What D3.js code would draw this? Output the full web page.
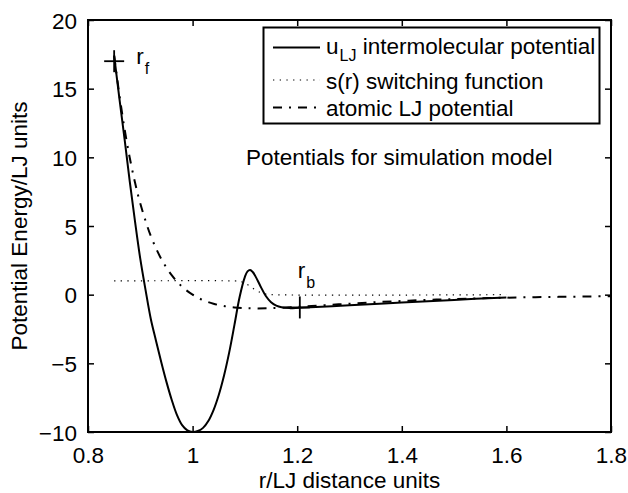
<!DOCTYPE html>
<html>
<head>
<meta charset="utf-8">
<script src="https://cdn.jsdelivr.net/npm/d3@7"></script>
<style>
  html, body { margin: 0; padding: 0; background: #fff; }
  svg { display: block; font-family: "Liberation Sans", Arial, Helvetica, sans-serif; }
</style>
</head>
<body>
<svg id="chart" width="628" height="493"></svg>
<script>
// Intermolecular potential u_LJ (r, energy)
const uR = [0.85, 0.86, 0.87, 0.88, 0.89, 0.90, 0.91, 0.92, 0.93, 0.94, 0.95, 0.96, 0.97, 0.98, 0.99, 1.00,
            1.01, 1.02, 1.03, 1.04, 1.05, 1.06, 1.07, 1.08, 1.09, 1.10, 1.105, 1.11, 1.115, 1.12,
            1.13, 1.14, 1.15, 1.16, 1.17, 1.185, 1.205, 1.30, 1.40, 1.50, 1.60];
const uV = [17.4, 14.3, 11.3, 8.2, 5.3, 2.6, 0.35, -1.75, -3.35, -4.9, -6.35, -7.65, -8.75, -9.5, -9.88, -10.0,
            -9.93, -9.7, -9.2, -8.4, -7.3, -5.9, -4.2, -2.2, -0.15, 1.3, 1.7, 1.8, 1.65, 1.35,
            0.6, -0.1, -0.55, -0.8, -0.92, -0.98, -0.95, -0.77, -0.57, -0.38, -0.2];

// Switching function s(r)
const sR = [0.85, 1.08, 1.09, 1.10, 1.11, 1.12, 1.13, 1.14, 1.15, 1.60];
const sV = [1.0, 1.0, 0.97, 0.85, 0.6, 0.35, 0.15, 0.04, 0.0, 0.0];

// Atomic LJ potential
const ljR = [0.85, 0.86, 0.87, 0.88, 0.89, 0.90, 0.92, 0.94, 0.96, 0.98, 1.00, 1.02, 1.04,
             1.06, 1.08, 1.10, 1.12, 1.15, 1.20, 1.25, 1.30, 1.35, 1.40, 1.45, 1.50, 1.60, 1.70, 1.80];
const ljV = [17.4, 14.55, 12.05, 9.93, 8.15, 6.64, 4.28, 2.61, 1.42, 0.58, 0.0, -0.40, -0.66,
             -0.83, -0.93, -0.98, -1.0, -0.98, -0.89, -0.77, -0.66, -0.55, -0.46, -0.38, -0.32, -0.22, -0.16, -0.11];

// Cut-off markers r_f and r_b
const markerR = [0.85, 1.205];
const markerV = [17.0, -0.93];
const markerNames = ["f", "b"];

// Axis ticks
const xTicks = [0.8, 1.0, 1.2, 1.4, 1.6, 1.8];
const xTickLabels = ["0.8", "1", "1.2", "1.4", "1.6", "1.8"];
const yTicks = [-10, -5, 0, 5, 10, 15, 20];
const yTickLabels = ["\u221210", "\u22125", "0", "5", "10", "15", "20"];

const legendLabels = ["intermolecular potential", "s(r) switching function", "atomic LJ potential"];

const svg = d3.select("#chart");
const L = 88, R = 611, T = 20, B = 432;
const x = d3.scaleLinear().domain([0.8, 1.8]).range([L, R]);
const y = d3.scaleLinear().domain([-10, 20]).range([B, T]);
const FS = 22.5, SUB = 16;

// ticks (inward, mirrored on all sides)
const tickLen = 6;
const fmtX = d => xTickLabels[xTicks.indexOf(d)];
const fmtY = d => yTickLabels[yTicks.indexOf(d)];

const gx = svg.append("g").attr("transform", `translate(0,${B})`)
  .call(d3.axisBottom(x).tickValues(xTicks).tickSize(-tickLen).tickPadding(15).tickFormat(fmtX));
const gxt = svg.append("g").attr("transform", `translate(0,${T})`)
  .call(d3.axisTop(x).tickValues(xTicks).tickSize(-tickLen).tickFormat(""));
const gy = svg.append("g").attr("transform", `translate(${L},0)`)
  .call(d3.axisLeft(y).tickValues(yTicks).tickSize(-tickLen).tickPadding(11).tickFormat(fmtY));
const gyr = svg.append("g").attr("transform", `translate(${R},0)`)
  .call(d3.axisRight(y).tickValues(yTicks).tickSize(-tickLen).tickFormat(""));

[gx, gxt, gy, gyr].forEach(g => {
  g.select(".domain").remove();
  g.selectAll(".tick line").attr("stroke", "#000").attr("stroke-width", 1.5);
  g.selectAll(".tick text").attr("fill", "#000").style("font-size", FS + "px")
    .style("font-family", "\"Liberation Sans\", Arial, Helvetica, sans-serif");
});
gx.selectAll(".tick text").attr("dy", "0.71em");
gy.selectAll(".tick text").attr("dy", "0.36em");

// curves
const zip = (rs, vs) => rs.map((r, i) => [r, vs[i]]);
const line = d3.line().x(d => x(d[0])).y(d => y(d[1])).curve(d3.curveCatmullRom.alpha(0.5));

svg.append("path").datum(zip(sR, sV)).attr("d", line)
  .attr("fill", "none").attr("stroke", "#000").attr("stroke-width", 1.2)
  .attr("stroke-dasharray", "1.3,5.4");

svg.append("path").datum(zip(ljR, ljV)).attr("d", line)
  .attr("fill", "none").attr("stroke", "#000").attr("stroke-width", 2)
  .attr("stroke-dasharray", "9,7,2,7");

svg.append("path").datum(zip(uR, uV)).attr("d", line)
  .attr("fill", "none").attr("stroke", "#000").attr("stroke-width", 2);

// markers
markerR.forEach((r, i) => {
  const cx = x(r), cy = y(markerV[i]);
  svg.append("line").attr("x1", cx - 10).attr("x2", cx + 10).attr("y1", cy).attr("y2", cy)
    .attr("stroke", "#000").attr("stroke-width", 1.8);
  svg.append("line").attr("x1", cx).attr("x2", cx).attr("y1", cy - 11).attr("y2", cy + 11)
    .attr("stroke", "#000").attr("stroke-width", 1.8);
  const t = svg.append("text").attr("x", cx + (i === 0 ? 22 : -2)).attr("y", cy + (i === 0 ? 2.5 : -29))
    .style("font-size", FS + "px").text("r");
  t.append("tspan").attr("dy", 10).attr("dx", 1).style("font-size", SUB + "px").text(markerNames[i]);
});

// plot frame
svg.append("rect").attr("x", L).attr("y", T).attr("width", R - L).attr("height", B - T)
  .attr("fill", "none").attr("stroke", "#000").attr("stroke-width", 2);

// annotation
svg.append("text").attr("x", 246).attr("y", 165).style("font-size", FS + "px")
  .text("Potentials for simulation model");

// legend
const lg = svg.append("g");
lg.append("rect").attr("x", 263.5).attr("y", 27.5).attr("width", 336).attr("height", 96)
  .attr("fill", "#fff").attr("stroke", "#000").attr("stroke-width", 2);
const rowY = [47.5, 80, 107.5];
const styles = [null, "1.3,5.4", "9,7,2,7"];
const widths = [2, 1.2, 2];
rowY.forEach((ry, i) => {
  const ln = lg.append("line").attr("x1", 273).attr("x2", 320).attr("y1", ry).attr("y2", ry)
    .attr("stroke", "#000").attr("stroke-width", widths[i]);
  if (styles[i]) ln.attr("stroke-dasharray", styles[i]);
});
const t0 = lg.append("text").attr("x", 326).attr("y", 54).style("font-size", FS + "px").text("u");
t0.append("tspan").attr("dy", 7).attr("dx", 1).style("font-size", SUB + "px").text("LJ");
t0.append("tspan").attr("dy", -7).text(" " + legendLabels[0]);
lg.append("text").attr("x", 326).attr("y", 88.5).style("font-size", FS + "px").text(legendLabels[1]);
lg.append("text").attr("x", 326).attr("y", 115.5).style("font-size", FS + "px").text(legendLabels[2]);

// axis titles
svg.append("text").attr("x", (L + R) / 2).attr("y", 488).attr("text-anchor", "middle")
  .style("font-size", FS + "px").text("r/LJ distance units");
svg.append("text").attr("transform", `translate(27,${(T + B) / 2}) rotate(-90)`)
  .attr("text-anchor", "middle").style("font-size", FS + "px").text("Potential Energy/LJ units");
</script>
</body>
</html>
